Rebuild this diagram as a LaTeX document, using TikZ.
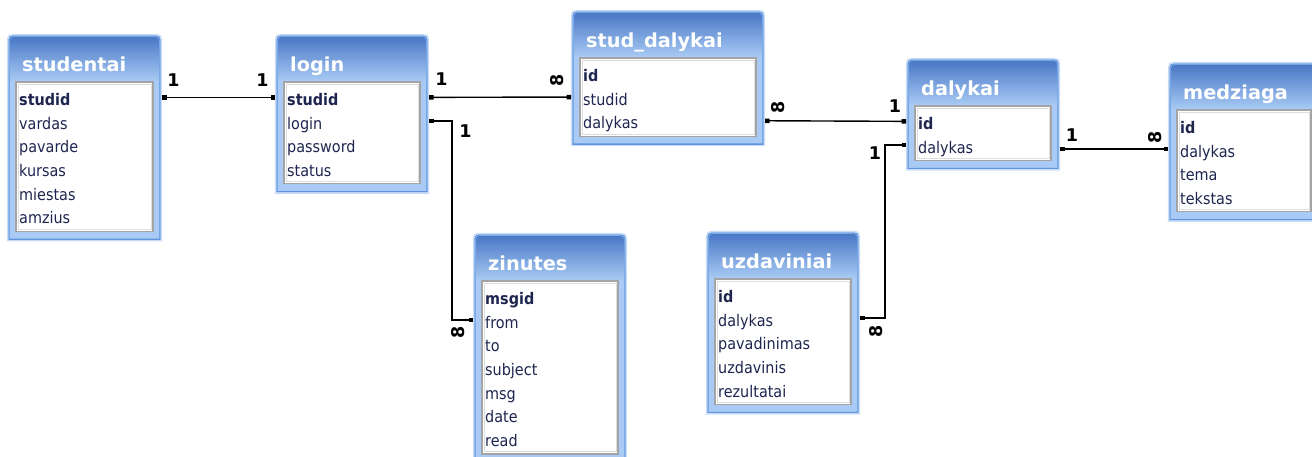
\documentclass[tikz,border=0pt]{standalone}
\usepackage{fontspec}
\setmainfont{DejaVu Sans}
\newfontfamily\fieldfont[FakeStretch=0.9]{DejaVu Sans}
\usetikzlibrary{arrows.meta}

\definecolor{framefill}{HTML}{A8CAF4}
\definecolor{frameline}{HTML}{5F95E0}
\definecolor{framehalo}{HTML}{C9DDF7}
\definecolor{titletop}{HTML}{4A78C6}
\definecolor{titlebottom}{HTML}{AACCF4}
\definecolor{panelline}{HTML}{A4A4A4}
\definecolor{panelinner}{HTML}{DEDEDE}
\definecolor{fieldink}{HTML}{1E2650}

\tikzset{
  halo/.style={draw=framehalo, line width=1.2pt},
  frame/.style={draw=frameline, fill=framefill, line width=1.3pt},
  titleband/.style={top color=titletop, bottom color=titlebottom},
  titletext/.style={anchor=base west, inner sep=0pt, text=white,
    font=\fontsize{19.3}{22}\selectfont\bfseries},
  panel/.style={draw=panelline, fill=white, line width=1.2pt},
  panelrim/.style={draw=panelinner, line width=1pt},
  fieldtext/.style={anchor=base west, inner sep=0pt, text=fieldink,
    font=\fieldfont\fontsize{16}{19}\selectfont},
  rel/.style={draw=black, line width=1.4pt,
    {Square[length=4.5pt,width=4.5pt]}-{Square[length=4.5pt,width=4.5pt]}},
  card/.style={inner sep=0pt, font=\fontsize{17.5}{19}\selectfont\bfseries},
  many/.style={card, rotate=90},
}

% \dbtable{name}{left}{right}{top}{title}{rows}{fields; the first one is the key}
\newcommand\dbtable[7]{%
  \begin{scope}
    \pgfmathsetmacro\xa{#2}
    \pgfmathsetmacro\xb{#3}
    \pgfmathsetmacro\ya{#4}
    \pgfmathsetmacro\yt{\ya+46}
    \pgfmathsetmacro\yp{\yt+7+#6*23.7}
    \pgfmathsetmacro\yb{\yp+8}
    \draw[halo] (\xa-1.5,\yb+1.5) -- (\xa-1.5,\ya+8)
      .. controls (\xa-1.5,\ya-1.5) .. (\xa+8,\ya-1.5) -- (\xb-8,\ya-1.5)
      .. controls (\xb+1.5,\ya-1.5) .. (\xb+1.5,\ya+8) -- (\xb+1.5,\yb+1.5) -- cycle;
    \draw[frame] (\xa,\yb) -- (\xa,\ya+8)
      .. controls (\xa,\ya) .. (\xa+8,\ya) -- (\xb-8,\ya)
      .. controls (\xb,\ya) .. (\xb,\ya+8) -- (\xb,\yb) -- cycle;
    \path[titleband] (\xa+1,\yt) -- (\xa+1,\ya+8)
      .. controls (\xa+1,\ya+1) .. (\xa+8,\ya+1) -- (\xb-8,\ya+1)
      .. controls (\xb-1,\ya+1) .. (\xb-1,\ya+8) -- (\xb-1,\yt) -- cycle;
    \node[titletext] (#1-title) at (\xa+13,\ya+35) {#5};
    \draw[panel] (\xa+7,\yt) rectangle (\xb-7,\yp);
    \draw[panelrim] (\xa+9,\yt+2) rectangle (\xb-9,\yp-2);
    \foreach \f [count=\k] in {#7} {
      \pgfmathsetmacro\yr{\yt+6+(\k-0.5)*23.7}
      \node[fieldtext] (#1-\k) at (\xa+10,\yr+5.5) {\ifnum\k=1 \bfseries\fi\f};
      \coordinate (#1-\k-w) at (\xa-2,\yr-2.5);
      \coordinate (#1-\k-e) at (\xb+2,\yr-2.5);
    }
  \end{scope}}

\begin{document}
\begin{tikzpicture}[x=1pt,y=-1pt]
  \useasboundingbox (0,0) rectangle (1312,456);
  \clip (0,0) rectangle (1312,456);

  % tables
  \dbtable{studentai}{9}{160}{36}{studentai}{6}{studid,vardas,pavarde,kursas,miestas,amzius}
  \dbtable{login}{277}{427}{36}{login}{4}{studid,login,password,status}
  \dbtable{studd}{573}{763}{12}{stud\_dalykai}{3}{id,studid,dalykas}
  \dbtable{dalykai}{908}{1058}{60}{dalykai}{2}{id,dalykas}
  \dbtable{medziaga}{1170}{1318}{64}{medziaga}{4}{id,dalykas,tema,tekstas}
  \dbtable{zinutes}{475}{625}{235}{zinutes}{7}{msgid,from,to,subject,msg,date,read}
  \dbtable{uzdaviniai}{708}{858}{233}{uzdaviniai}{5}{id,dalykas,pavadinimas,uzdavinis,rezultatai}

  % relationships
  \draw[rel] (studentai-1-e) -- (login-1-w);
  \draw[rel] (login-1-e) -- (studd-2-w);
  \draw[rel] (login-2-e) -- ++(23,0) |- (zinutes-2-w);
  \draw[rel] (studd-3-e) -- (dalykai-1-w);
  \draw[rel] (uzdaviniai-2-e) -- ++(25,0) |- (dalykai-2-w);
  \draw[rel] (dalykai-2-e |- medziaga-2-w) -- (medziaga-2-w);

  % cardinalities
  \node[card] (c1) at (173.5,80) {1};
  \node[card] (c2) at (262.5,80) {1};
  \node[card] (c3) at (441.5,79) {1};
  \node[many] (c4) at (557,80) {8};
  \node[card] (c5) at (465.5,131) {1};
  \node[many] (c6) at (458.5,332) {8};
  \node[many] (c7) at (778.5,107) {8};
  \node[card] (c8) at (895,106) {1};
  \node[card] (c9) at (875,153) {1};
  \node[many] (c10) at (876.5,331) {8};
  \node[card] (c11) at (1072,135) {1};
  \node[many] (c12) at (1155,137) {8};
\end{tikzpicture}
\end{document}
